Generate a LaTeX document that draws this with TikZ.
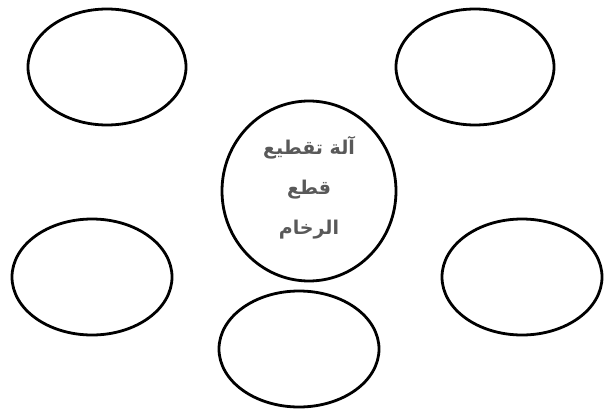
\documentclass[tikz,border=0pt]{standalone}
\usepackage{fontspec}
\newfontfamily\arabicfont[Script=Arabic]{DejaVu Sans}
\TeXXeTstate=1
\begin{document}
\begin{tikzpicture}[x=1pt,y=-1pt,
  bubble/.style={draw=black,line width=2.8pt},
  lbl/.style={font=\arabicfont\bfseries\fontsize{19}{40}\selectfont,text=black!65,align=center}]
\useasboundingbox (0,0) rectangle (616,415);
\draw[bubble] (107,67) ellipse [x radius=79, y radius=58];
\draw[bubble] (475,67) ellipse [x radius=79, y radius=58];
\draw[bubble] (309,191) ellipse [x radius=87, y radius=90];
\draw[bubble] (92,277) ellipse [x radius=80, y radius=58];
\draw[bubble] (522,277) ellipse [x radius=80, y radius=58];
\draw[bubble] (299,349) ellipse [x radius=80, y radius=58];
\node[lbl] (c) at (309,188) {\beginR آلة تقطيع\endR\\\beginR قطع\endR\\\beginR الرخام\endR};
\end{tikzpicture}
\end{document}
